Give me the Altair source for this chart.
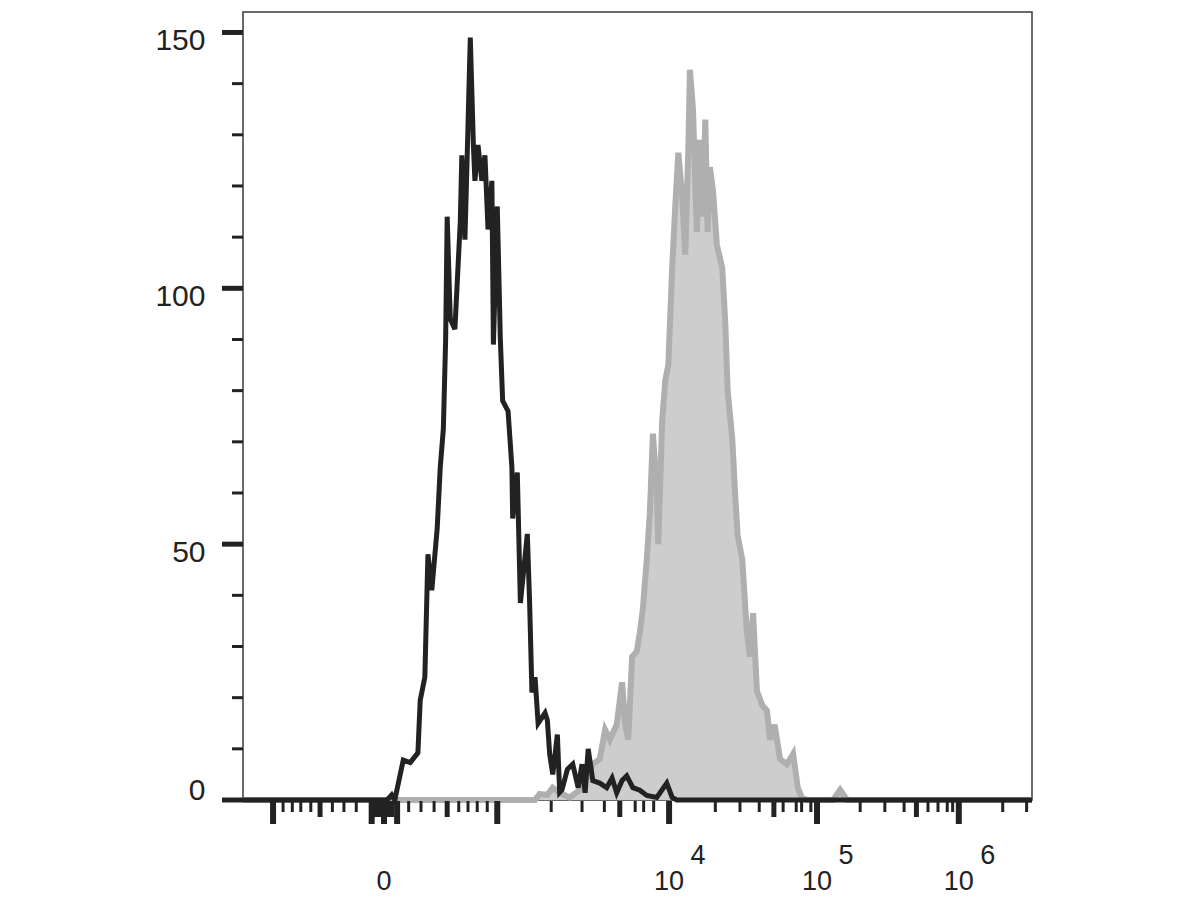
import altair as alt
import pandas as pd

# ---- data (channel units 0..1024 on a biexponential display scale) ----
black_ch = [0, 187, 193, 197, 208, 217, 227, 230, 236, 240, 245, 252, 256, 260, 263, 265,
            269, 275, 282, 284, 288, 291, 295, 299, 301, 305, 310, 314, 318, 323, 325, 330,
            334, 337, 344, 349, 350, 356, 360, 363, 369, 372, 375, 379, 383, 392, 395, 398,
            402, 408, 411, 414, 421, 428, 435, 440, 444, 448, 454, 463, 472, 479, 485, 492,
            498, 506, 515, 524, 537, 550, 557, 563, 1024]
black_count = [0, 0, 1, 0, 7.8, 7.3, 9.2, 19.5, 24, 48, 41, 53, 65, 72.5, 90, 114,
               94, 92, 113, 126, 109.5, 126, 149, 128, 121, 128, 121, 126, 111.5, 121, 89, 116,
               90, 78, 76, 65, 55, 64, 38.5, 43, 52, 38.5, 21, 24, 15, 17, 15.6, 9,
               5, 12.8, 1.5, 2, 6, 7, 2.4, 7, 1.4, 10, 3.8, 3.3, 2.4, 4.3, 1.4, 3.8,
               4.7, 2.4, 1.9, 0.9, 0.5, 3.3, 0.5, 0, 0]

gray_ch = [0, 379, 385, 395, 402, 411, 424, 441, 454, 463, 470, 476, 485, 492, 496, 500,
           505, 511, 515, 519, 524, 528, 532, 537, 539, 544, 548, 552, 557, 561, 565, 570,
           574, 578, 580, 584, 589, 593, 597, 600, 603, 606, 610, 615, 622, 626, 629, 635,
           639, 642, 648, 654, 658, 662, 667, 674, 680, 684, 690, 697, 706, 714, 720, 725,
           732, 766, 775, 784, 1024]
gray_count = [0, 0, 1.2, 1, 2.4, 1.4, 0.5, 2.4, 7, 8, 13.7, 11.8, 14.7, 23, 14.7, 11.8,
              28, 29, 32.7, 37.4, 47, 56, 71.6, 61, 50, 74, 82, 85, 104, 116, 126.5, 118,
              106.6, 127.5, 142.7, 135, 111, 129, 114, 133, 111, 123.7, 119, 108.5, 104, 93, 80, 70.6,
              59, 51.7, 47, 32.7, 28, 36.5, 21.3, 18.5, 17.5, 11.8, 14.7, 8, 7, 9, 2.4, 0.5,
              0, 0, 2, 0, 0]

# axis tick positions (channel units)
x_major = [39, 167, 183, 200, 330, 553, 745, 929]
x_medium = [100, 173, 178, 188, 193, 265, 489, 689, 874]
x_minor = [52, 64, 75, 88, 116, 131, 147, 215, 231, 248, 280, 292, 304, 317,
           400, 440, 469, 509, 520, 533, 613, 645, 670, 701, 718, 725, 737,
           801, 833, 858, 889, 902, 914, 921, 986, 1017]
x_label_pos = [183, 553, 745, 929]
x_label_base = ["0", "10", "10", "10"]
x_label_exp = ["", "4", "5", "6"]

y_major = [0, 50, 100, 150]
y_minor = [10, 20, 30, 40, 60, 70, 80, 90, 110, 120, 130, 140]

W, H = 789, 788
FONT = "Liberation Sans"
INK = "#222222"

xs = alt.Scale(domain=[0, 1024], nice=False, zero=False)
ys = alt.Scale(domain=[0, 154], nice=False, zero=False)
yaxis = alt.Axis(values=y_major, ticks=False, domain=False, grid=False, title=None,
                 labelFont=FONT, labelFontSize=30, labelColor=INK, labelPadding=38,
                 labelOffset={"condition": {"test": "datum.value === 0", "value": -10}, "value": 8})

black_df = pd.DataFrame({"ch": black_ch, "count": black_count})
gray_df = pd.DataFrame({"ch": gray_ch, "count": gray_count})

gray_area = alt.Chart(gray_df).mark_area(color="#cdcdcd", interpolate="linear").encode(
    x=alt.X("ch:Q", scale=xs, axis=None),
    y=alt.Y("count:Q", scale=ys, axis=yaxis),
)
gray_line = alt.Chart(gray_df).mark_line(color="#afafaf", strokeWidth=6, interpolate="linear").encode(
    x=alt.X("ch:Q", scale=xs, axis=None),
    y=alt.Y("count:Q", scale=ys, axis=yaxis),
)
black_line = alt.Chart(black_df).mark_line(color=INK, strokeWidth=5, interpolate="linear").encode(
    x=alt.X("ch:Q", scale=xs, axis=None),
    y=alt.Y("count:Q", scale=ys, axis=yaxis),
)

def xticks(vals, length, width):
    return alt.Chart(pd.DataFrame({"ch": vals})).mark_rule(color=INK, strokeWidth=width).encode(
        x=alt.X("ch:Q", scale=xs, axis=None),
        y=alt.value(H + 1),
        y2=alt.value(H + 1 + length),
    )

def yticks(vals, length, width):
    return alt.Chart(pd.DataFrame({"count": vals})).mark_rule(color=INK, strokeWidth=width).encode(
        y=alt.Y("count:Q", scale=ys, axis=yaxis),
        x=alt.value(-length),
        x2=alt.value(0),
    )

lab_df = pd.DataFrame({"ch": x_label_pos, "base": x_label_base, "exp": x_label_exp})
lab_base = alt.Chart(lab_df).mark_text(font=FONT, fontSize=27, color=INK, align="center",
                                       baseline="middle").encode(
    x=alt.X("ch:Q", scale=xs, axis=None),
    y=alt.value(H + 82),
    text="base:N",
)
lab_exp = alt.Chart(lab_df).mark_text(font=FONT, fontSize=27, color=INK, align="center",
                                      baseline="middle", dx=29).encode(
    x=alt.X("ch:Q", scale=xs, axis=None),
    y=alt.value(H + 56),
    text="exp:N",
)

chart = alt.layer(
    gray_area, gray_line, black_line,
    xticks(x_minor, 11, 3), xticks(x_medium, 16, 5), xticks(x_major, 23, 6),
    yticks(y_minor, 11, 3), yticks(y_major, 21, 5),
    lab_base, lab_exp,
).properties(
    width=W, height=H,
    padding={"left": 235, "top": 4, "right": 160, "bottom": 100},
    autosize=alt.AutoSizeParams(type="none"),
    background="white",
).configure_view(stroke="#3a3a3a", strokeWidth=1.5)

chart.save("out.html", embed_options={"renderer": "svg", "actions": False})
